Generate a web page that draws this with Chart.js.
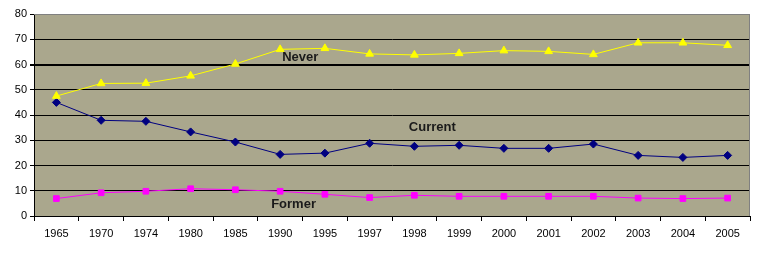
<!DOCTYPE html>
<html>
  <head>
    <meta charset="utf-8">
    <title></title>
    <style>
      body { margin: 0; background: #fff; }
      #wrap { width: 772px; height: 256px; }
    </style>
  </head>
  <body>
    <div id="wrap"><canvas id="myChart" width="772" height="256"></canvas></div>
  </body>
  <script src="https://cdn.jsdelivr.net/npm/chart.js@4/dist/chart.umd.min.js"></script>
  <script type="text/javascript">

  const years = ['1965','1970','1974','1980','1985','1990','1995','1997','1998','1999','2000','2001','2002','2003','2004','2005'];
  const never   = [47.5, 52.5, 52.6, 55.5, 60.2, 66.0, 66.4, 64.2, 63.8, 64.4, 65.5, 65.2, 64.0, 68.6, 68.6, 67.6];
  const current = [45.0, 37.9, 37.5, 33.3, 29.3, 24.4, 24.9, 28.8, 27.6, 28.0, 26.8, 26.8, 28.5, 24.0, 23.2, 24.0];
  const former  = [6.9, 9.2, 9.8, 10.8, 10.4, 9.8, 8.6, 7.3, 8.2, 7.8, 7.8, 7.8, 7.8, 7.1, 6.9, 7.1];
  const yTicks = [0, 10, 20, 30, 40, 50, 60, 70, 80];

  // series names drawn inside the plot: [text, category position, value]
  const seriesLabels = [
    ['Never', 5.45, 63],
    ['Current', 8.4, 35],
    ['Former', 5.3, 4.5]
  ];

  const plotBg = {
    id: 'plotBg',
    beforeDraw(chart) {
      const {ctx, chartArea: a} = chart;
      ctx.save();
      ctx.fillStyle = '#aaa78d';
      ctx.fillRect(a.left, a.top, a.right - a.left, a.bottom - a.top);
      ctx.restore();
    },
    afterDatasetsDraw(chart) {
      const {ctx, chartArea: a} = chart;
      ctx.save();
      // gray frame on top and right
      ctx.strokeStyle = '#808080';
      ctx.lineWidth = 1;
      ctx.beginPath();
      ctx.moveTo(a.left, a.top + 0.5);
      ctx.lineTo(a.right - 0.5, a.top + 0.5);
      ctx.lineTo(a.right - 0.5, a.bottom);
      ctx.stroke();
      ctx.font = 'bold 13px "Liberation Sans", Arial, sans-serif';
      ctx.fillStyle = '#1a1a1a';
      ctx.textAlign = 'center';
      ctx.textBaseline = 'middle';
      const xs = chart.scales.x, ys = chart.scales.y;
      seriesLabels.forEach(l => {
        ctx.fillText(l[0], xs.getPixelForValue(l[1]), ys.getPixelForValue(l[2]));
      });
      ctx.restore();
    }
  };

  const ctx = document.getElementById('myChart').getContext('2d');
  const chart = new Chart(ctx, {
    type: 'line',
    data: {
      labels: years,
      datasets: [
        {
          label: 'Never',
          data: never,
          borderColor: '#ffff00',
          backgroundColor: '#ffff00',
          borderWidth: 1,
          pointStyle: 'triangle',
          pointRadius: 4.5,
          tension: 0
        },
        {
          label: 'Current',
          data: current,
          borderColor: '#000080',
          backgroundColor: '#000080',
          borderWidth: 1,
          pointStyle: 'rectRot',
          pointRadius: 4,
          tension: 0
        },
        {
          label: 'Former',
          data: former,
          borderColor: '#ff00ff',
          backgroundColor: '#ff00ff',
          borderWidth: 1,
          pointStyle: 'rect',
          pointRadius: 4,
          tension: 0
        }
      ]
    },
    options: {
      responsive: false,
      animation: false,
      layout: { padding: { top: 14, right: 22, left: 0, bottom: 0 } },
      plugins: {
        legend: { display: false },
        tooltip: { enabled: false }
      },
      scales: {
        x: {
          offset: true,
          afterFit: s => { s.height = 40; },
          grid: {
            offset: true,
            drawOnChartArea: false,
            drawTicks: true,
            tickLength: 5,
            color: '#000'
          },
          border: { color: '#000', width: 1 },
          ticks: {
            color: '#000',
            padding: 6,
            maxRotation: 0,
            autoSkip: false,
            font: { family: '"Liberation Sans", Arial, sans-serif', size: 11 }
          }
        },
        y: {
          min: 0,
          max: 80,
          afterFit: s => { s.width = 34; },
          afterBuildTicks: s => { s.ticks = yTicks.map(v => ({ value: v })); },
          grid: {
            color: c => (c.tick && c.tick.value === 80) ? '#808080' : '#000',
            lineWidth: c => (c.tick && c.tick.value === 60) ? 2 : 1,
            tickLength: 4,
            tickColor: '#000'
          },
          border: { color: '#000', width: 1 },
          ticks: {
            color: '#000',
            padding: 3,
            font: { family: '"Liberation Sans", Arial, sans-serif', size: 11 }
          }
        }
      }
    },
    plugins: [plotBg]
  });
  </script>
</html>
